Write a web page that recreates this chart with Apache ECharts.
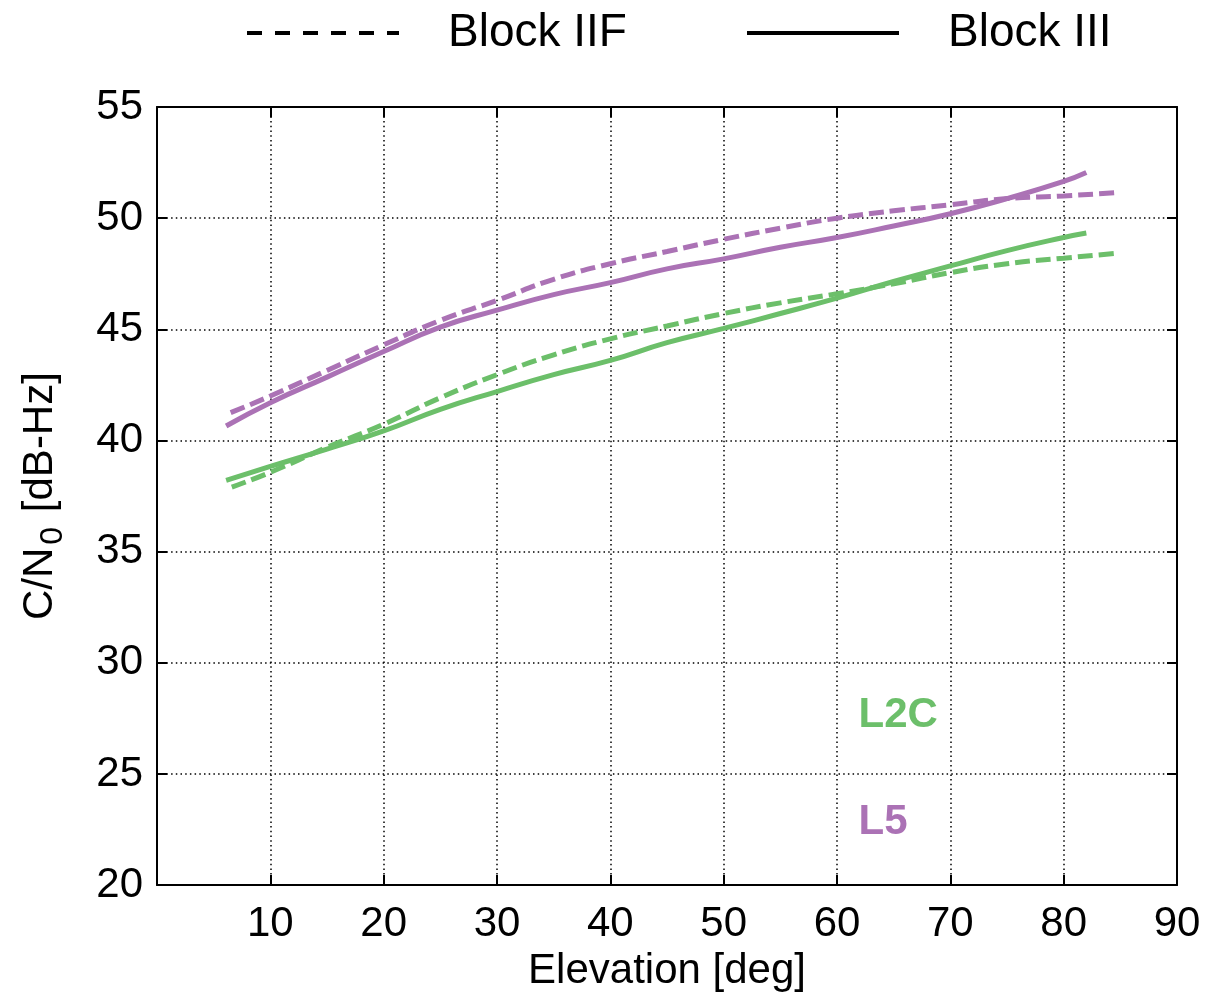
<!DOCTYPE html>
<html>
<head>
<meta charset="utf-8">
<title>C/N0 vs Elevation</title>
<script src="https://cdn.jsdelivr.net/npm/echarts@6/dist/echarts.min.js"></script>
<style>
  html, body { margin: 0; padding: 0; background: #fff; }
  #chart { width: 1207px; height: 997px; }
</style>
</head>
<body>
<div id="chart"></div>
<script>
// Elevation [deg] and C/N0 [dB-Hz] samples for each signal / satellite block
const l5IIFElev  = [6.5, 10, 15, 20, 25, 30, 35, 40, 45, 50, 55, 60, 65, 70, 75, 80, 84.8];
const l5IIFCn0   = [41.25, 42.0, 43.15, 44.3, 45.4, 46.3, 47.25, 47.95, 48.5, 49.05, 49.55, 50.0, 50.33, 50.6, 50.88, 51.0, 51.15];

const l5IIIElev  = [6.1, 10, 15, 20, 25, 30, 35, 40, 45, 50, 55, 60, 65, 70, 75, 80, 82];
const l5IIICn0   = [40.65, 41.7, 42.85, 44.0, 45.1, 45.86, 46.56, 47.1, 47.72, 48.17, 48.69, 49.13, 49.65, 50.2, 50.88, 51.65, 52.05];

const l2cIIFElev = [6.6, 10, 15, 20, 25, 30, 35, 40, 45, 50, 55, 60, 65, 70, 75, 80, 84.7];
const l2cIIFCn0  = [37.9, 38.57, 39.69, 40.73, 41.92, 42.96, 43.85, 44.57, 45.15, 45.71, 46.19, 46.6, 47.05, 47.55, 47.95, 48.2, 48.42];

const l2cIIIElev = [6.1, 10, 15, 20, 25, 30, 35, 40, 45, 50, 55, 60, 65, 70, 75, 80, 82];
const l2cIIICn0  = [38.2, 38.83, 39.61, 40.43, 41.4, 42.2, 42.96, 43.6, 44.4, 45.04, 45.71, 46.4, 47.15, 47.85, 48.54, 49.13, 49.33];

// Axis ranges and tick steps
const xRange = [0, 90], xStep = 10;
const yRange = [20, 55], yStep = 5;

// Signal name tags placed inside the plot: [text, elevation, C/N0]
const l2cTag = ['L2C', 61.9, 27.63];
const l5Tag  = ['L5', 61.9, 22.81];

const legendNames = ['Block IIF', 'Block III'];

const GREEN = '#6cbf6a';
const PURPLE = '#ab72b5';
const FONT = "'Liberation Sans', Arial, Helvetica, sans-serif";
const DASH = [15, 6];

function pairs(xs, ys) { return xs.map((x, i) => [x, ys[i]]); }

function tag(t, color) {
  return {
    symbol: 'circle',
    symbolSize: 0,
    silent: true,
    data: [{ coord: [t[1], t[2]], value: t[0] }],
    label: {
      show: true,
      position: 'right',
      distance: 0,
      formatter: t[0],
      color: color,
      fontFamily: FONT,
      fontWeight: 'bold',
      fontSize: 42
    }
  };
}

const chart = echarts.init(document.getElementById('chart'), null, { renderer: 'canvas' });

const axisLineStyle = { color: '#000', width: 2 };
const gridLineStyle = { color: '#000', width: 1.5, type: [1.5, 3.2] };

const frameAxis = (extra) => Object.assign({
  type: 'value',
  axisLine: { show: true, onZero: false, lineStyle: axisLineStyle },
  axisTick: { show: true, inside: true, length: 10, lineStyle: axisLineStyle },
  axisLabel: { show: false },
  splitLine: { show: false }
}, extra);

const legendText = {
  fontFamily: FONT,
  fontSize: 46,
  color: '#000',
  rich: { gap: { width: 44 }, t: { fontFamily: FONT, fontSize: 46, color: '#000' } }
};

function legendBox(name, left, dash) {
  return {
    data: [{ name: name, itemStyle: { opacity: 0 } }],
    left: left, top: 5,
    itemWidth: 152, itemHeight: 20, selectedMode: false,
    itemStyle: { opacity: 0 },
    lineStyle: { color: '#000', width: 4, type: dash, opacity: 1 },
    formatter: '{gap|}{t|{name}}',
    textStyle: legendText
  };
}

chart.setOption({
  animation: false,
  backgroundColor: '#fff',
  grid: { left: 157, right: 30, top: 107, bottom: 105, containLabel: false },
  legend: [
    legendBox(legendNames[0], 240, [15, 13]),
    legendBox(legendNames[1], 740, 'solid')
  ],
  xAxis: [
    {
      type: 'value', min: xRange[0], max: xRange[1], interval: xStep,
      name: 'Elevation [deg]', nameLocation: 'middle', nameGap: 60,
      nameTextStyle: { fontFamily: FONT, fontSize: 42, color: '#000' },
      axisLine: { show: true, onZero: false, lineStyle: axisLineStyle },
      axisTick: { show: true, inside: true, length: 10, lineStyle: axisLineStyle },
      axisLabel: { showMinLabel: false, margin: 18, fontFamily: FONT, fontSize: 42, color: '#000' },
      splitLine: { show: true, lineStyle: gridLineStyle }
    },
    frameAxis({ position: 'top', min: xRange[0], max: xRange[1], interval: xStep })
  ],
  yAxis: [
    {
      type: 'value', min: yRange[0], max: yRange[1], interval: yStep,
      name: '{m|C/N}{s|0}{m| [dB-Hz]}', nameLocation: 'middle', nameGap: 94,
      nameTextStyle: {
        fontFamily: FONT, fontSize: 42, color: '#000',
        rich: {
          m: { fontFamily: FONT, fontSize: 42, color: '#000', lineHeight: 46 },
          s: { fontFamily: FONT, fontSize: 32, color: '#000', lineHeight: 32, padding: [26, 3, 0, 3] }
        }
      },
      axisLine: { show: true, onZero: false, lineStyle: axisLineStyle },
      axisTick: { show: true, inside: true, length: 10, lineStyle: axisLineStyle },
      axisLabel: { margin: 14, fontFamily: FONT, fontSize: 42, color: '#000' },
      splitLine: { show: true, lineStyle: gridLineStyle }
    },
    frameAxis({ position: 'right', min: yRange[0], max: yRange[1], interval: yStep })
  ],
  series: [
    {
      name: 'L5 Block IIF', type: 'line', smooth: true, showSymbol: false, symbol: 'none',
      data: pairs(l5IIFElev, l5IIFCn0),
      lineStyle: { color: PURPLE, width: 5, type: DASH }
    },
    {
      name: 'L5 Block III', type: 'line', smooth: true, showSymbol: false, symbol: 'none',
      data: pairs(l5IIIElev, l5IIICn0),
      lineStyle: { color: PURPLE, width: 5 },
      markPoint: tag(l5Tag, PURPLE)
    },
    {
      name: 'L2C Block IIF', type: 'line', smooth: true, showSymbol: false, symbol: 'none',
      data: pairs(l2cIIFElev, l2cIIFCn0),
      lineStyle: { color: GREEN, width: 5, type: DASH }
    },
    {
      name: 'L2C Block III', type: 'line', smooth: true, showSymbol: false, symbol: 'none',
      data: pairs(l2cIIIElev, l2cIIICn0),
      lineStyle: { color: GREEN, width: 5 },
      markPoint: tag(l2cTag, GREEN)
    },
    // legend-only entries: black line styles for the two satellite blocks
    {
      name: legendNames[0], type: 'line', symbol: 'none', data: [],
      itemStyle: { color: '#000' },
      lineStyle: { color: '#000', width: 4, type: [15, 13] }
    },
    {
      name: legendNames[1], type: 'line', symbol: 'none', data: [],
      itemStyle: { color: '#000' },
      lineStyle: { color: '#000', width: 4 }
    }
  ]
});
</script>
</body>
</html>
